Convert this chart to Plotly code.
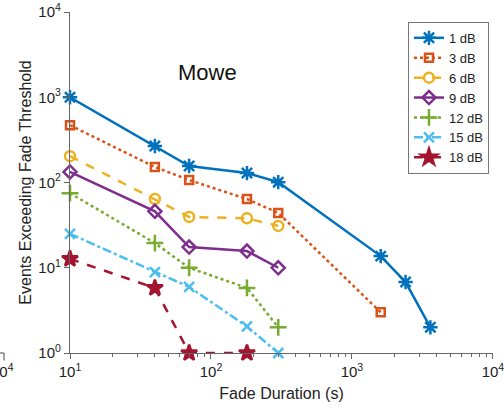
import plotly.graph_objects as go

# Data (fade duration in s, events exceeding threshold)
dur_1 = [10, 40, 70, 180, 300, 1600, 2400, 3600]
ev_1 = [1000, 268, 156, 129, 101, 13.7, 6.8, 2.0]
dur_3 = [10, 40, 70, 180, 300, 1600]
ev_3 = [470, 152, 107, 64, 44, 3]
dur_6 = [10, 40, 70, 180, 300]
ev_6 = [204, 64, 39.5, 38, 31]
dur_9 = [10, 40, 70, 180, 300]
ev_9 = [133, 46, 17.5, 15.7, 10]
dur_12 = [10, 40, 70, 180, 300]
ev_12 = [75, 19.5, 10, 5.8, 2]
dur_15 = [10, 40, 70, 180, 300]
ev_15 = [25, 8.9, 5.95, 2.05, 1]
dur_18 = [10, 40, 70, 180]
ev_18 = [12.7, 5.8, 1, 1]

names = ["1 dB", "3 dB", "6 dB", "9 dB", "12 dB", "15 dB", "18 dB"]
xs = [dur_1, dur_3, dur_6, dur_9, dur_12, dur_15, dur_18]
ys = [ev_1, ev_3, ev_6, ev_9, ev_12, ev_15, ev_18]
colors = ["#0072BD", "#D95319", "#EDB120", "#7E2F8E", "#77AC30", "#4DBEEE", "#A2142F"]
dashes = ["solid", "dot", "dash", "solid", "dot", "dashdot", "dash"]
symbols = ["asterisk-open", "square-open", "circle-open", "diamond-open",
           "cross-thin-open", "x-thin-open", "star"]
msizes = [12, 8, 10, 10, 12, 10, 12]

xtick_vals = [10, 100, 1000, 10000]
xtick_text = ["10<sup>1</sup>", "10<sup>2</sup>", "10<sup>3</sup>", "10<sup>4</sup>"]
ytick_vals = [1, 10, 100, 1000, 10000]
ytick_text = ["10<sup>0</sup>", "10<sup>1</sup>", "10<sup>2</sup>", "10<sup>3</sup>", "10<sup>4</sup>"]
xminor = [m * 10 ** e for e in (1, 2, 3) for m in range(2, 10)]

fig = go.Figure()
for n, x, y, c, d, s, ms in zip(names, xs, ys, colors, dashes, symbols, msizes):
    fig.add_trace(go.Scatter(
        x=x, y=y, name=n, mode="lines+markers",
        line=dict(color=c, width=2.5, dash=d),
        marker=dict(symbol=s, size=ms, color=c, line=dict(color=c, width=2.5)),
        cliponaxis=False,
    ))

axis_common = dict(
    type="log", showgrid=False, zeroline=False, showline=True, automargin=False,
    linecolor="#666666", linewidth=1.2, ticks="outside", ticklen=5,
    tickcolor="#666666", ticklabeloverflow="allow",
    tickfont=dict(family="Liberation Sans, Arial", size=15, color="#222222"),
)

fig.update_layout(
    width=504, height=408,
    margin=dict(l=70, r=11, t=12, b=55),
    paper_bgcolor="white", plot_bgcolor="white",
    font=dict(family="Liberation Sans, Arial", color="#222222"),
    xaxis=dict(axis_common, range=[1, 4.0005], tickvals=xtick_vals, ticktext=xtick_text,
               minor=dict(ticks="outside", ticklen=3, tickcolor="#666666",
                          tickvals=xminor, showgrid=False),
               title=dict(text="Fade Duration (s)", font=dict(size=16), standoff=8)),
    yaxis=dict(axis_common, range=[0, 4.0005], tickvals=ytick_vals, ticktext=ytick_text,
               title=dict(text="Events Exceeding Fade Threshold", font=dict(size=16), standoff=2)),
    legend=dict(x=0.799, y=0.971, xanchor="left", yanchor="top",
                bordercolor="#777777", borderwidth=1, bgcolor="white",
                font=dict(size=13), tracegroupgap=0, itemwidth=30),
    showlegend=True,
    annotations=[
        dict(text="Mowe", x=0.326, y=0.824, xref="paper", yref="paper",
             xanchor="center", yanchor="middle",
             showarrow=False, font=dict(size=22, color="#111111")),
        dict(text="10<sup>4</sup>", x=-0.128, y=-0.05, xref="paper", yref="paper",
             xanchor="right", yanchor="middle", showarrow=False,
             font=dict(size=15, color="#222222")),
    ],
    shapes=[
        dict(type="line", xref="paper", yref="paper", x0=-0.166, x1=-0.156,
             y0=0.0, y1=0.0, line=dict(color="#666666", width=1.2)),
        dict(type="line", xref="paper", yref="paper", x0=-0.156, x1=-0.156,
             y0=0.0, y1=-0.022, line=dict(color="#666666", width=1.2)),
    ],
)

fig.write_html("out.html", config={"displayModeBar": False},
               post_script="document.body.style.margin='0';")
